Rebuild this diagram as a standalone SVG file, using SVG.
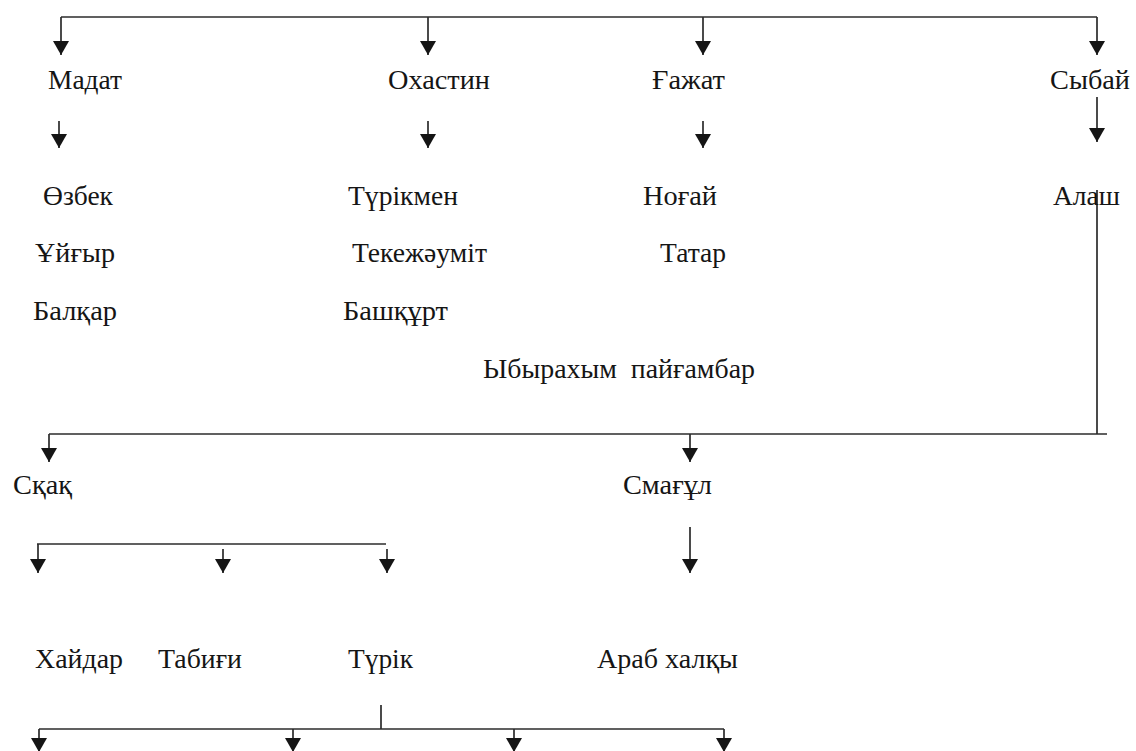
<svg xmlns="http://www.w3.org/2000/svg" width="1136" height="751" viewBox="0 0 1136 751">
<defs>
<style>
text{font-family:"Liberation Serif","Times New Roman",serif;font-size:27px;fill:#151515}
.c line{stroke:#2b2b2b;stroke-width:1.7;fill:none}
.c line.a{marker-end:url(#ah)}
</style>
<marker id="ah" viewBox="0 0 14 16" refX="14" refY="8" markerWidth="14" markerHeight="16" markerUnits="userSpaceOnUse" orient="auto">
<path d="M0,0 L14,8 L0,16 z" fill="#151515"/>
</marker>
</defs>
<rect width="1136" height="751" fill="#fff"/>
<g class="c" id="connectors">
<line x1="61" y1="17" x2="1097" y2="17"/>
<line class="a" x1="61" y1="17" x2="61" y2="55"/>
<line class="a" x1="428" y1="17" x2="428" y2="55"/>
<line class="a" x1="703" y1="17" x2="703" y2="55"/>
<line class="a" x1="1097" y1="17" x2="1097" y2="55"/>
<line class="a" x1="59" y1="121" x2="59" y2="148"/>
<line class="a" x1="428" y1="121" x2="428" y2="148"/>
<line class="a" x1="703" y1="121" x2="703" y2="148"/>
<line class="a" x1="1097" y1="97" x2="1097" y2="142"/>
<line x1="1097" y1="190" x2="1097" y2="434"/>
<line x1="49" y1="434" x2="1107" y2="434"/>
<line class="a" x1="49" y1="434" x2="49" y2="462"/>
<line class="a" x1="690" y1="434" x2="690" y2="462"/>
<line class="a" x1="690" y1="527" x2="690" y2="573"/>
<line x1="37" y1="544" x2="386" y2="544"/>
<line class="a" x1="38" y1="544" x2="38" y2="573"/>
<line class="a" x1="223" y1="549" x2="223" y2="573"/>
<line class="a" x1="387" y1="549" x2="387" y2="573"/>
<line x1="381" y1="705" x2="381" y2="729"/>
<line x1="39" y1="729" x2="724" y2="729"/>
<line class="a" x1="39" y1="729" x2="39" y2="752"/>
<line class="a" x1="293" y1="729" x2="293" y2="752"/>
<line class="a" x1="514" y1="729" x2="514" y2="752"/>
<line class="a" x1="724" y1="729" x2="724" y2="752"/>
</g>
<g id="n-madat"><text x="48" y="89" textLength="74" lengthAdjust="spacingAndGlyphs">Мадат</text></g>
<g id="n-okhastin"><text x="388" y="89" textLength="102" lengthAdjust="spacingAndGlyphs">Охастин</text></g>
<g id="n-gazhat"><text x="652" y="89" textLength="73" lengthAdjust="spacingAndGlyphs">Ғажат</text></g>
<g id="n-sybai"><text x="1050" y="89" textLength="80" lengthAdjust="spacingAndGlyphs">Сыбай</text></g>
<g id="n-ozbek"><text x="43" y="205" textLength="70" lengthAdjust="spacingAndGlyphs">Өзбек</text></g>
<g id="n-uigyr"><text x="35" y="262" textLength="80" lengthAdjust="spacingAndGlyphs">Ұйғыр</text></g>
<g id="n-balkar"><text x="33" y="320" textLength="84" lengthAdjust="spacingAndGlyphs">Балқар</text></g>
<g id="n-turkmen"><text x="348" y="205" textLength="110" lengthAdjust="spacingAndGlyphs">Түрікмен</text></g>
<g id="n-tekezhaumit"><text x="352" y="262" textLength="135" lengthAdjust="spacingAndGlyphs">Текежәуміт</text></g>
<g id="n-bashkurt"><text x="343" y="320" textLength="105" lengthAdjust="spacingAndGlyphs">Башқұрт</text></g>
<g id="n-nogai"><text x="643" y="205" textLength="74" lengthAdjust="spacingAndGlyphs">Ноғай</text></g>
<g id="n-tatar"><text x="660" y="262" textLength="66" lengthAdjust="spacingAndGlyphs">Татар</text></g>
<g id="n-alash"><text x="1053" y="205" textLength="67" lengthAdjust="spacingAndGlyphs">Алаш</text></g>
<g id="n-ybyrakhym"><text x="483" y="378" textLength="272" lengthAdjust="spacingAndGlyphs" xml:space="preserve">Ыбырахым  пайғамбар</text></g>
<g id="n-skak"><text x="13" y="494" textLength="59" lengthAdjust="spacingAndGlyphs">Сқақ</text></g>
<g id="n-smagul"><text x="623" y="494" textLength="89" lengthAdjust="spacingAndGlyphs">Смағұл</text></g>
<g id="n-khaidar"><text x="35" y="668" textLength="88" lengthAdjust="spacingAndGlyphs">Хайдар</text></g>
<g id="n-tabigi"><text x="158" y="668" textLength="84" lengthAdjust="spacingAndGlyphs">Табиғи</text></g>
<g id="n-turik"><text x="348" y="668" textLength="65" lengthAdjust="spacingAndGlyphs">Түрік</text></g>
<g id="n-arab"><text x="597" y="668" textLength="141" lengthAdjust="spacingAndGlyphs">Араб халқы</text></g>
</svg>
